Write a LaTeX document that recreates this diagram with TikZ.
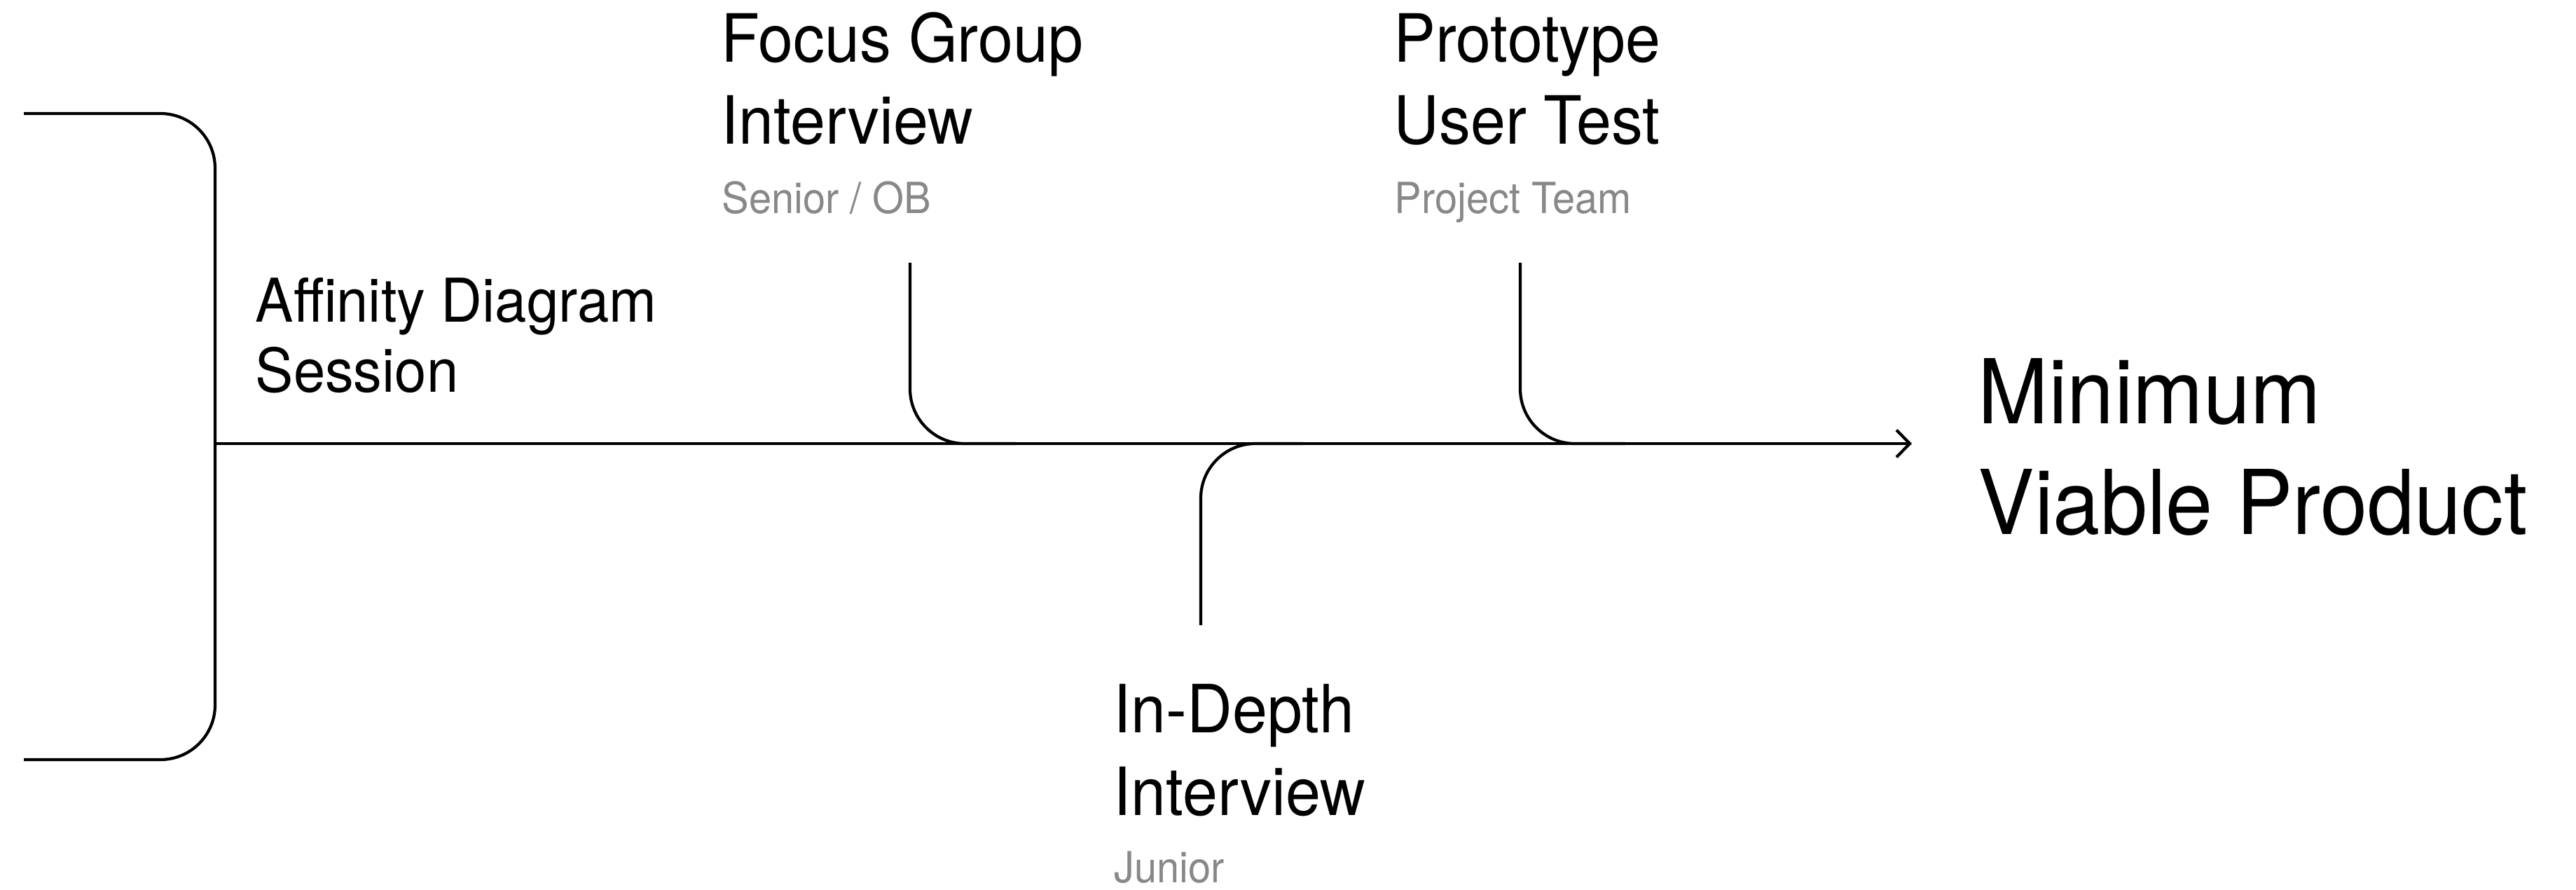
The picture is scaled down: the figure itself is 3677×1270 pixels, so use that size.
\documentclass[tikz,border=0pt]{standalone}
\usepackage{fontspec}
\setmainfont{TeX Gyre Heros}[FakeStretch=0.945]
\usetikzlibrary{arrows.meta}
\definecolor{subgray}{HTML}{888888}
\tikzset{
  lbl/.style={inner sep=0pt, anchor=base west, align=left, font=\fontsize{27pt}{33.3pt}\selectfont},
  lblsmall/.style={lbl, font=\fontsize{24.5pt}{28.7pt}\selectfont},
  sublbl/.style={inner sep=0pt, anchor=base west, text=subgray, font=\fontsize{17.4pt}{20pt}\selectfont},
  biglbl/.style={inner sep=0pt, anchor=base west, align=left, font=\fontsize{36.3pt}{44.7pt}\selectfont},
  ln/.style={line width=1.2pt, line cap=butt, draw=black},
  branch/.style={ln, rounded corners=0.78cm},
}
\begin{document}
\begin{tikzpicture}[x=0.01cm,y=-0.01cm]
\useasboundingbox (0,0) rectangle (3677,1270);
% coordinates
\coordinate (btl) at (34,162);
\coordinate (bbl) at (34,1084);
\coordinate (bmid) at (307,633);
\coordinate (tip) at (2729,633);
\coordinate (fgtop) at (1299,375);
\coordinate (fgjoin) at (1450,633);
\coordinate (pttop) at (2170,375);
\coordinate (ptjoin) at (2320,633);
\coordinate (idbot) at (1714,892);
\coordinate (idjoin) at (1860,633);
% bracket
\draw[branch] (btl) -| (bmid) |- (bbl);
% main spine
\draw[ln, -{Straight Barb[length=5.4pt,width=11pt]}] (bmid) -- (tip);
% branches
\draw[branch] (fgtop) |- (fgjoin);
\draw[branch] (pttop) |- (ptjoin);
\draw[branch] (idbot) |- (idjoin);
% labels (base anchor = baseline of last line)
\node[lblsmall] (aff) at (364,560) {Affinity Diagram\\Session};
\node[lbl] (fg) at (1029,206) {Focus Group\\Interview};
\node[sublbl] (fgs) at (1030,305) {Senior / OB};
\node[lbl] (pt) at (1989,206) {Prototype\\User Test};
\node[sublbl] (pts) at (1990,305) {Project Team};
\node[lbl] (id) at (1589,1163) {In-Depth\\Interview};
\node[sublbl] (ids) at (1590,1259) {Junior};
\node[biglbl] (mvp) at (2823,762) {Minimum\\Viable Product};
\end{tikzpicture}
\end{document}
